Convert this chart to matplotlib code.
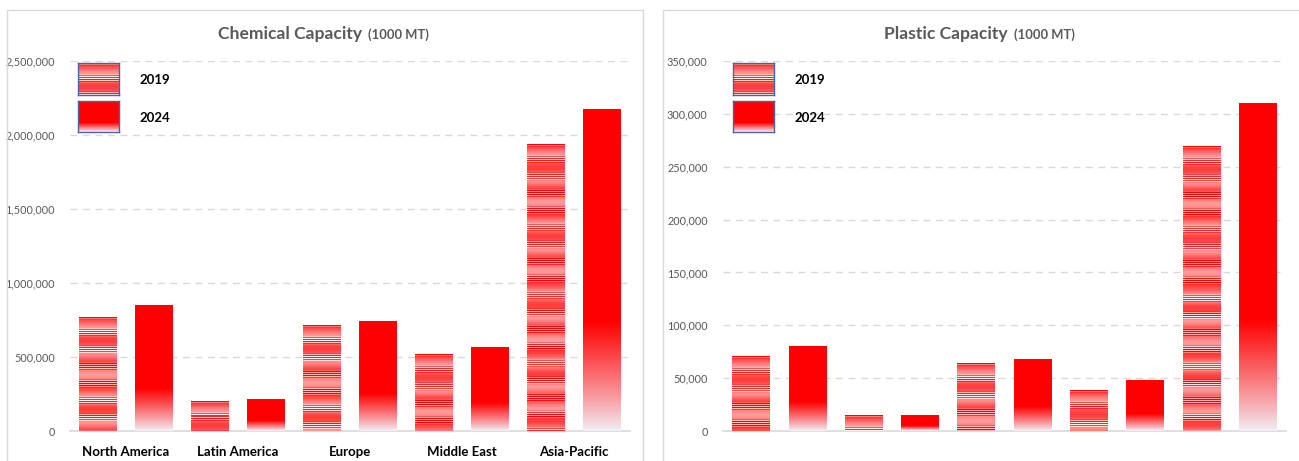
import numpy as np
import matplotlib
matplotlib.use("Agg")
import matplotlib.pyplot as plt
from matplotlib.patches import Rectangle
from matplotlib.ticker import FuncFormatter, MultipleLocator

# ---- data -------------------------------------------------------------
regions = ["North America", "Latin America", "Europe", "Middle East", "Asia-Pacific"]
years = ["2019", "2024"]
chem_2019 = [770000, 196000, 716000, 520000, 1939000]
chem_2024 = [845000, 210000, 743000, 561000, 2170000]
plastic_2019 = [70000, 15000, 64000, 38000, 269000]
plastic_2024 = [80000, 14500, 68000, 48000, 310000]

W, H = 1299, 461
fig = plt.figure(figsize=(W / 100, H / 100), dpi=100)
fig.patch.set_facecolor("white")

FONT = ["Lato", "DejaVu Sans"]
GREY = "#595959"
GRID = "#d9d9d9"


def fx(x):
    return x / W


def fy(y):
    return 1 - y / H


def striped_texture(n_rows):
    """Horizontal line fill: bands of flat tint alternate with red/white lines."""
    r = np.arange(n_rows)
    base = 0.58 + 0.18 * np.cos(2 * np.pi * r / 23.0)
    amp = 0.42 * np.clip(np.cos(2 * np.pi * r / 17.0 + 0.8), 0, 1) ** 0.6
    w = np.clip(base + amp * np.where(r % 2 == 0, 1, -1), 0.08, 1)
    rgb = np.ones((n_rows, 1, 3))
    rgb[:, 0, 1] = 1 - w
    rgb[:, 0, 2] = 1 - w
    return rgb


def fade_texture(n_rows, frac=0.34):
    """Solid red on top, fading to a pale tint at the base."""
    t = np.linspace(1, 0, n_rows)  # 1 at top, 0 at bottom
    w = np.clip(t / frac, 0, 1) ** 0.9
    base = np.array([0.95, 0.94, 0.97])
    red = np.array([1.0, 0.0, 0.0])
    rgb = (w[:, None] * red + (1 - w[:, None]) * base)[:, None, :]
    return rgb


def draw_bars(ax, v19, v24, width=0.335, off=0.25):
    fig.canvas.draw()
    for i, (a, b) in enumerate(zip(v19, v24)):
        for val, x0, kind in ((a, i - off, 0), (b, i + off, 1)):
            p0 = ax.transData.transform((0, 0))
            p1 = ax.transData.transform((0, val))
            n = max(int(round(abs(p1[1] - p0[1]))), 2)
            tex = striped_texture(n) if kind == 0 else fade_texture(n)
            ax.imshow(tex, extent=(x0 - width / 2, x0 + width / 2, 0, val),
                      aspect="auto", interpolation="nearest", zorder=3)


def setup_axes(rect, ymax, step, labels):
    ax = fig.add_axes(rect)
    ax.set_xlim(-0.5, len(regions) - 0.5)
    ax.set_ylim(0, ymax)
    ax.yaxis.set_major_locator(MultipleLocator(step))
    ax.yaxis.set_major_formatter(FuncFormatter(lambda v, p: f"{int(v):,}"))
    for s in ("top", "right", "left"):
        ax.spines[s].set_visible(False)
    ax.spines["bottom"].set_color(GRID)
    ax.spines["bottom"].set_linewidth(1.2)
    ax.grid(axis="y", color=GRID, linestyle=(0, (5, 4)), linewidth=1)
    ax.set_axisbelow(True)
    ax.tick_params(axis="y", length=0, pad=11, labelsize=7.8, labelcolor=GREY)
    ax.tick_params(axis="x", length=0, pad=11)
    ax.set_xticks(range(len(regions)))
    if labels:
        ax.set_xticklabels(regions, fontsize=9.5, fontweight="bold",
                           color="black", family=FONT)
    else:
        ax.set_xticklabels([])
    for lab in ax.get_yticklabels():
        lab.set_family(FONT)
    gl = ax.get_ygridlines()
    gl[0].set_visible(False)
    return ax


# panel frames
fig.add_artist(Rectangle((fx(7), fy(475)), fx(643) - fx(7), fy(10) - fy(475),
                         transform=fig.transFigure, fill=False,
                         edgecolor=GRID, linewidth=1))
fig.add_artist(Rectangle((fx(663), fy(475)), fx(1310) - fx(663), fy(10) - fy(475),
                         transform=fig.transFigure, fill=False,
                         edgecolor=GRID, linewidth=1))

ax1 = setup_axes([fx(70), fy(431), fx(630) - fx(70), fy(61) - fy(431)],
                 2500000, 500000, True)
ax2 = setup_axes([fx(723), fy(431), fx(1286) - fx(723), fy(61) - fy(431)],
                 350000, 50000, False)
draw_bars(ax1, chem_2019, chem_2024)
draw_bars(ax2, plastic_2019, plastic_2024)


def title(x_split, y, main):
    fig.text(fx(x_split), fy(y), main, ha="right", va="center", fontsize=12.6,
             fontweight="bold", color=GREY, family=FONT)
    fig.text(fx(x_split + 6), fy(y + 1), "(1000 MT)", ha="left", va="center",
             fontsize=9.4, fontweight="bold", color=GREY, family=FONT)


title(362, 34, "Chemical Capacity")
title(1008, 34, "Plastic Capacity")


def legend(x0):
    for (y0, y1), kind, year in (((63, 95), 0, years[0]), ((101, 132), 1, years[1])):
        lax = fig.add_axes([fx(x0), fy(y1), fx(x0 + 41) - fx(x0), fy(y0) - fy(y1)])
        n = y1 - y0
        tex = striped_texture(n) if kind == 0 else fade_texture(n, frac=0.3)
        lax.imshow(tex, aspect="auto", interpolation="nearest",
                   extent=(0, 1, 0, 1))
        lax.set_xticks([])
        lax.set_yticks([])
        for s in lax.spines.values():
            s.set_edgecolor("#4a62a8")
            s.set_linewidth(1)
        fig.text(fx(x0 + 61), fy((y0 + y1) / 2 + 1), year, ha="left",
                 va="center", fontsize=9.5, fontweight="bold", color="black",
                 family=FONT)


legend(78)
legend(733)

fig.savefig("out.png", dpi=100, facecolor="white")
